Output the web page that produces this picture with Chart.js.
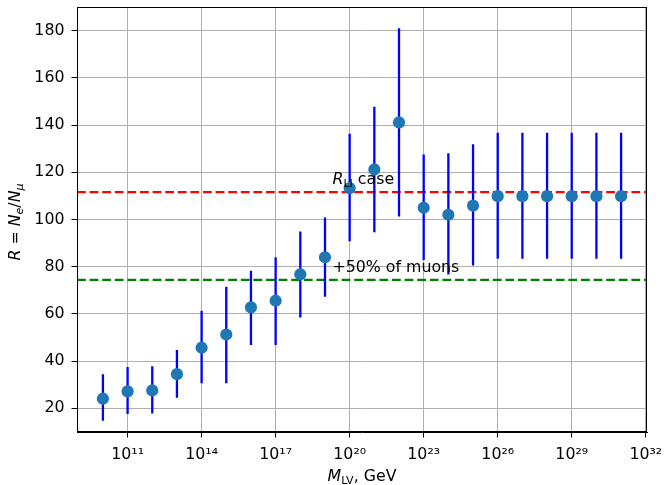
<!DOCTYPE html>
<html>
<head>
<meta charset="utf-8">
<script src="https://cdn.jsdelivr.net/npm/chart.js@4.4.1/dist/chart.umd.min.js"></script>
<style>
html,body{margin:0;padding:0;background:#ffffff;}
#wrap{width:665px;height:485px;}
</style>
</head>
<body>
<div id="wrap"><canvas id="c" width="665" height="485"></canvas></div>
<script>
// ---- data ----
const massValues = [1e10, 1e11, 1e12, 1e13, 1e14, 1e15, 1e16, 1e17, 1e18, 1e19, 1e20,
                    1e21, 1e22, 1e23, 1e24, 1e25, 1e26, 1e27, 1e28, 1e29, 1e30, 1e31];
const ratioValues = [24.1, 27.2, 27.6, 34.5, 45.7, 51.3, 62.8, 65.6, 76.8, 84.0, 113.3,
                     121.2, 141.1, 105.0, 102.0, 105.9, 109.9, 109.9, 109.9, 109.9, 109.9, 109.9];
const ratioLower  = [14.8, 17.6, 17.8, 24.5, 30.7, 30.7, 46.8, 46.8, 58.5, 67.3, 90.8,
                     94.6, 101.3, 82.9, 76.7, 80.5, 83.4, 83.4, 83.4, 83.4, 83.4, 83.4];
const ratioUpper  = [34.5, 37.5, 37.9, 44.7, 61.4, 71.5, 78.3, 84.0, 94.9, 100.8, 136.3,
                     147.8, 181.0, 127.5, 128.1, 131.9, 136.7, 136.7, 136.7, 136.7, 136.7, 136.7];
const liCaseLevel = 111.6;
const muonLevel = 74.4;
const xTickValues = [1e11, 1e14, 1e17, 1e20, 1e23, 1e26, 1e29, 1e32];
const yTickValues = [20, 40, 60, 80, 100, 120, 140, 160, 180];
const xLimits = [Math.pow(10, 8.95), Math.pow(10, 32.05)];
const yLimits = [10, 190];
const annotationX = [2e19, 2e19];
const annotationY = [115.1, 77.9];

// ---- helpers ----
const FAM = '"DejaVu Sans", sans-serif';
const FS = 15.8;
const SUP = {'0':'⁰','1':'¹','2':'²','3':'³','4':'⁴','5':'⁵','6':'⁶','7':'⁷','8':'⁸','9':'⁹','-':'⁻'};
function powLabel(v) {
  const e = Math.round(Math.log10(v));
  return '10' + String(e).split('').map(c => SUP[c]).join('');
}
function fontStr(r) {
  return (r.italic ? 'italic ' : '') + (r.size || FS) + 'px ' + FAM;
}
function drawRuns(ctx, runs, x, y, align) {
  let total = 0;
  runs.forEach(r => { ctx.font = fontStr(r); r.w = ctx.measureText(r.t).width; total += r.w; });
  let cx = align === 'center' ? x - total / 2 : x;
  runs.forEach(r => { ctx.font = fontStr(r); ctx.fillText(r.t, cx, y + (r.dy || 0)); cx += r.w; });
}
const SUBS = FS * 0.7;
const SUBDY = FS * 0.2;

const errorSegments = [];
massValues.forEach((m, i) => {
  errorSegments.push({x: m, y: ratioLower[i]});
  errorSegments.push({x: m, y: ratioUpper[i]});
  errorSegments.push({x: m, y: null});
});
const points = massValues.map((m, i) => ({x: m, y: ratioValues[i]}));

const textPlugin = {
  id: 'texts',
  afterDraw(chart) {
    const ctx = chart.ctx;
    const a = chart.chartArea;
    const xs = chart.scales.x, ys = chart.scales.y;
    ctx.save();
    // frame (spines)
    ctx.strokeStyle = '#000';
    ctx.lineWidth = 1;
    ctx.strokeRect(Math.round(a.left) + 0.5, Math.round(a.top) + 0.5,
                   Math.round(a.right - a.left) - 1, Math.round(a.bottom - a.top) - 1);
    ctx.fillStyle = '#000';
    ctx.textBaseline = 'alphabetic';
    // annotations
    drawRuns(ctx, [
      {t: 'R', italic: true},
      {t: 'LI', size: SUBS, dy: SUBDY},
      {t: ' case'}
    ], xs.getPixelForValue(annotationX[0]), ys.getPixelForValue(annotationY[0]), 'left');
    drawRuns(ctx, [{t: '+50% of muons'}],
      xs.getPixelForValue(annotationX[1]), ys.getPixelForValue(annotationY[1]), 'left');
    // x title
    drawRuns(ctx, [
      {t: 'M', italic: true},
      {t: 'LV', size: SUBS, dy: SUBDY},
      {t: ', GeV'}
    ], (a.left + a.right) / 2, 481, 'center');
    // y title
    ctx.translate(19.5, 222);
    ctx.rotate(-Math.PI / 2);
    drawRuns(ctx, [
      {t: 'R', italic: true},
      {t: ' = '},
      {t: 'N', italic: true},
      {t: 'e', italic: true, size: SUBS, dy: SUBDY},
      {t: '/'},
      {t: 'N', italic: true},
      {t: 'μ', italic: true, size: SUBS, dy: SUBDY}
    ], 0, 0, 'center');
    ctx.restore();
  }
};

new Chart(document.getElementById('c'), {
  type: 'scatter',
  data: {
    datasets: [
      {
        type: 'scatter',
        label: 'R',
        data: points,
        backgroundColor: '#1f77b4',
        borderColor: '#1f77b4',
        borderWidth: 0,
        pointRadius: 6.1,
        pointHoverRadius: 6.1,
        order: 0
      },
      {
        type: 'line',
        label: 'error',
        data: errorSegments,
        borderColor: '#0000ff',
        borderWidth: 2.3,
        pointRadius: 0,
        spanGaps: false,
        fill: false,
        tension: 0,
        order: 1
      },
      {
        type: 'line',
        label: 'R_LI case',
        data: [{x: xLimits[0], y: liCaseLevel}, {x: xLimits[1], y: liCaseLevel}],
        borderColor: '#ff0000',
        borderWidth: 2.3,
        borderDash: [8.8, 3.8],
        pointRadius: 0,
        fill: false,
        order: 2
      },
      {
        type: 'line',
        label: '+50% of muons',
        data: [{x: xLimits[0], y: muonLevel}, {x: xLimits[1], y: muonLevel}],
        borderColor: '#008000',
        borderWidth: 2.3,
        borderDash: [8.8, 3.8],
        pointRadius: 0,
        fill: false,
        order: 2
      }
    ]
  },
  options: {
    responsive: false,
    animation: false,
    devicePixelRatio: 1,
    layout: {padding: {top: 7, right: 18, bottom: 0, left: 0}},
    plugins: {legend: {display: false}, tooltip: {enabled: false}},
    scales: {
      x: {
        type: 'logarithmic',
        min: xLimits[0],
        max: xLimits[1],
        afterBuildTicks: s => { s.ticks = xTickValues.map(v => ({value: v})); },
        afterFit: s => { s.height = 53; s.paddingLeft = 0; s.paddingRight = 0; },
        ticks: {
          callback: v => powLabel(v),
          autoSkip: false,
          maxRotation: 0,
          minRotation: 0,
          color: '#000',
          padding: 7.5,
          font: {family: FAM, size: FS}
        },
        grid: {color: '#b0b0b0', lineWidth: 1, tickColor: '#000', tickLength: 5.5, tickWidth: 1},
        border: {display: true, color: '#000', width: 1}
      },
      y: {
        type: 'linear',
        min: yLimits[0],
        max: yLimits[1],
        afterBuildTicks: s => { s.ticks = yTickValues.map(v => ({value: v})); },
        afterFit: s => { s.width = 77; s.paddingTop = 0; s.paddingBottom = 0; },
        ticks: {
          color: '#000',
          padding: 7,
          font: {family: FAM, size: FS}
        },
        grid: {color: '#b0b0b0', lineWidth: 1, tickColor: '#000', tickLength: 5.5, tickWidth: 1},
        border: {display: true, color: '#000', width: 1}
      }
    }
  },
  plugins: [textPlugin]
});
</script>
</body>
</html>
